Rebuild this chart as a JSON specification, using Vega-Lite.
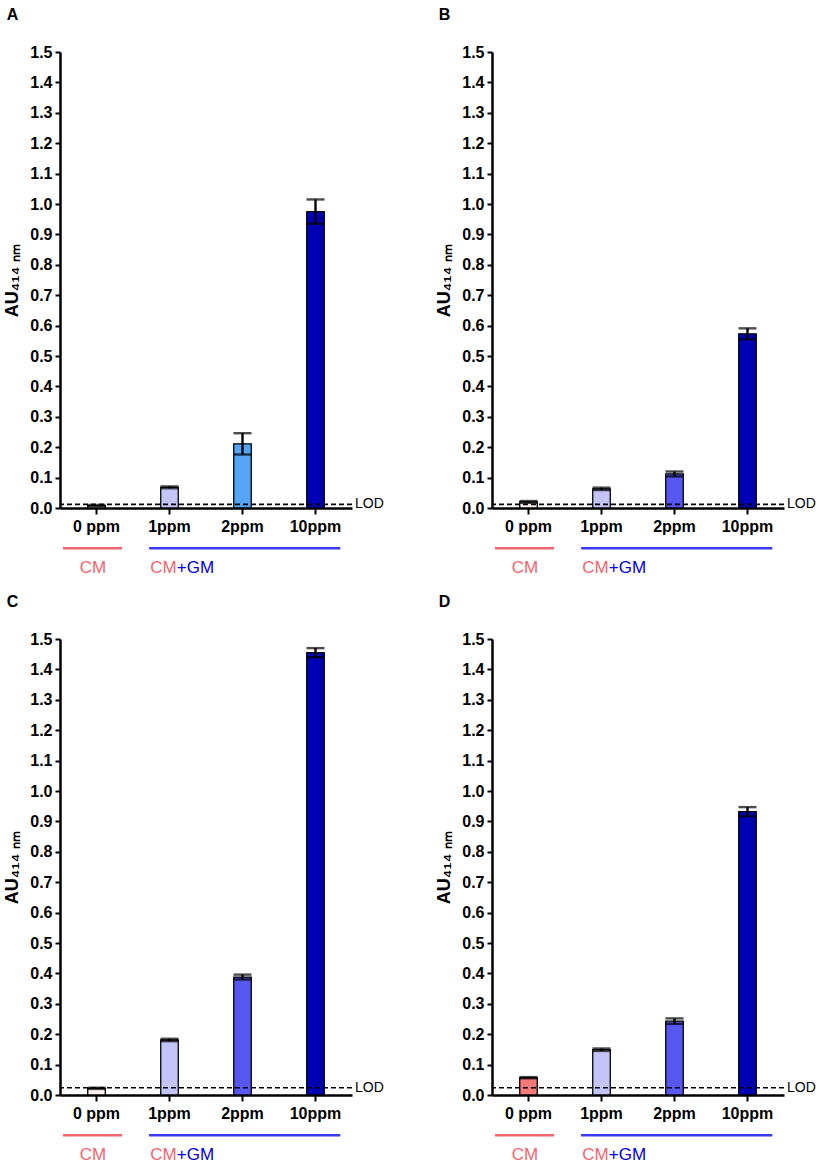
{
"$schema":"https://vega.github.io/schema/vega-lite/v6.json",
"padding":{"left":3,"top":7,"right":5,"bottom":3},
"background":"white",
"datasets":{
"bars":[
{"panel":"A","conc":"0 ppm","mean":0.008,"err":0.002},
{"panel":"A","conc":"1ppm","mean":0.068,"err":0.003},
{"panel":"A","conc":"2ppm","mean":0.211,"err":0.035},
{"panel":"A","conc":"10ppm","mean":0.975,"err":0.04},
{"panel":"B","conc":"0 ppm","mean":0.02,"err":0.003},
{"panel":"B","conc":"1ppm","mean":0.063,"err":0.004},
{"panel":"B","conc":"2ppm","mean":0.112,"err":0.008},
{"panel":"B","conc":"10ppm","mean":0.573,"err":0.018},
{"panel":"C","conc":"0 ppm","mean":0.022,"err":0.002},
{"panel":"C","conc":"1ppm","mean":0.181,"err":0.004},
{"panel":"C","conc":"2ppm","mean":0.388,"err":0.008},
{"panel":"C","conc":"10ppm","mean":1.455,"err":0.015},
{"panel":"D","conc":"0 ppm","mean":0.057,"err":0.002},
{"panel":"D","conc":"1ppm","mean":0.149,"err":0.004},
{"panel":"D","conc":"2ppm","mean":0.243,"err":0.009},
{"panel":"D","conc":"10ppm","mean":0.932,"err":0.015}
],
"lod":[
{"panel":"A","lod":0.012},
{"panel":"B","lod":0.012},
{"panel":"C","lod":0.024},
{"panel":"D","lod":0.024}
],
"groups":[
{"group":"CM","from":0.04,"to":0.85},
{"group":"CM+GM","from":1.22,"to":3.84}
]
},
"config":{
"font":"Liberation Sans",
"view":{"stroke":null},
"axis":{"grid":false,"domainColor":"#000000","domainWidth":2.5,"tickColor":"#000000","tickWidth":2,"tickSize":5,"labelColor":"#000000","labelFont":"Liberation Sans","labelFontSize":16,"labelFontWeight":"bold","titleFont":"Liberation Sans","titleFontSize":18,"titleFontWeight":"bold","titleColor":"#000000"},
"axisX":{"tickSize":6,"labelPadding":4,"labelAngle":0},
"axisY":{"labelPadding":3,"titlePadding":8},
"title":{"anchor":"start","fontSize":16,"fontWeight":"bold","dx":3,"offset":21,"color":"#000000","font":"Liberation Sans"}
},
"spacing":18,
"resolve":{"scale":{"fill":"independent"}},
"vconcat":[
{"hconcat":[
{"title":{"text":"A"},"width":292,"height":456,"resolve":{"scale":{"x":"independent"}},
"layer":[
{"layer":[
{"data":{"name":"bars"},"transform":[{"filter":"datum.panel === 'A'"}],
"mark":{"type":"bar","stroke":"#000000","strokeWidth":1.3},
"encoding":{
"x":{"field":"conc","type":"nominal","sort":["0 ppm","1ppm","2ppm","10ppm"],"scale":{"paddingInner":0.76,"paddingOuter":0.38},"axis":{"title":null}},
"y":{"field":"mean","type":"quantitative","scale":{"domain":[0,1.5],"nice":false},"title":"AU₄₁₄ ₙₘ","axis":{"values":[0,0.1,0.2,0.3,0.4,0.5,0.6,0.7,0.8,0.9,1,1.1,1.2,1.3,1.4,1.5],"format":".1f"}},
"fill":{"field":"conc","type":"nominal","scale":{"domain":["0 ppm","1ppm","2ppm","10ppm"],"range":["#FFEFEF","#C4C4F8","#55A5F7","#0000B4"]},"legend":null}}},
{"data":{"name":"bars"},"transform":[{"filter":"datum.panel === 'A'"}],
"mark":{"type":"errorbar","ticks":true,"size":18,"thickness":2.4,"color":"#000000"},
"encoding":{
"x":{"field":"conc","type":"nominal","sort":["0 ppm","1ppm","2ppm","10ppm"]},
"y":{"field":"mean","type":"quantitative","title":"AU₄₁₄ ₙₘ","axis":{"values":[0,0.1,0.2,0.3,0.4,0.5,0.6,0.7,0.8,0.9,1,1.1,1.2,1.3,1.4,1.5],"format":".1f"}},
"yError":{"field":"err"}}},
{"data":{"name":"lod"},"transform":[{"filter":"datum.panel === 'A'"}],
"mark":{"type":"rule","strokeDash":[5,3],"strokeWidth":1.6,"color":"#000000"},
"encoding":{"y":{"field":"lod","type":"quantitative","title":"AU₄₁₄ ₙₘ","axis":{"values":[0,0.1,0.2,0.3,0.4,0.5,0.6,0.7,0.8,0.9,1,1.1,1.2,1.3,1.4,1.5],"format":".1f"}}}}
]},
{"data":{"name":"lod"},"transform":[{"filter":"datum.panel === 'A'"}],
"mark":{"type":"text","align":"left","baseline":"middle","dx":3,"fontSize":14,"color":"#000000"},
"encoding":{"x":{"datum":4,"type":"quantitative","scale":{"domain":[0,4]},"axis":null},"y":{"field":"lod","type":"quantitative","title":"AU₄₁₄ ₙₘ","axis":{"values":[0,0.1,0.2,0.3,0.4,0.5,0.6,0.7,0.8,0.9,1,1.1,1.2,1.3,1.4,1.5],"format":".1f"}},"text":{"value":"LOD"}}},
{"data":{"name":"groups"},
"mark":{"type":"rule","strokeWidth":2.5},
"encoding":{"x":{"field":"from","type":"quantitative","scale":{"domain":[0,4]},"axis":null},"x2":{"field":"to"},"y":{"datum":-0.132,"type":"quantitative","title":"AU₄₁₄ ₙₘ","axis":{"values":[0,0.1,0.2,0.3,0.4,0.5,0.6,0.7,0.8,0.9,1,1.1,1.2,1.3,1.4,1.5],"format":".1f"}},"color":{"field":"group","type":"nominal","scale":{"domain":["CM","CM+GM"],"range":["#F2646E","#3B3BF0"]},"legend":null}}},
{"data":{"values":[{}]},
"mark":{"type":"text","align":"center","baseline":"middle","fontSize":17,"color":"#F2646E"},
"encoding":{"x":{"datum":0.45,"type":"quantitative","scale":{"domain":[0,4]},"axis":null},"y":{"datum":-0.197,"type":"quantitative","title":"AU₄₁₄ ₙₘ","axis":{"values":[0,0.1,0.2,0.3,0.4,0.5,0.6,0.7,0.8,0.9,1,1.1,1.2,1.3,1.4,1.5],"format":".1f"}},"text":{"value":"CM"}}},
{"data":{"values":[{}]},
"mark":{"type":"text","align":"right","baseline":"middle","fontSize":17,"color":"#F2646E"},
"encoding":{"x":{"datum":1.6,"type":"quantitative","scale":{"domain":[0,4]},"axis":null},"y":{"datum":-0.197,"type":"quantitative","title":"AU₄₁₄ ₙₘ","axis":{"values":[0,0.1,0.2,0.3,0.4,0.5,0.6,0.7,0.8,0.9,1,1.1,1.2,1.3,1.4,1.5],"format":".1f"}},"text":{"value":"CM"}}},
{"data":{"values":[{}]},
"mark":{"type":"text","align":"left","baseline":"middle","fontSize":17,"color":"#0000DD"},
"encoding":{"x":{"datum":1.6,"type":"quantitative","scale":{"domain":[0,4]},"axis":null},"y":{"datum":-0.197,"type":"quantitative","title":"AU₄₁₄ ₙₘ","axis":{"values":[0,0.1,0.2,0.3,0.4,0.5,0.6,0.7,0.8,0.9,1,1.1,1.2,1.3,1.4,1.5],"format":".1f"}},"text":{"value":"+GM"}}}
]},
{"title":{"text":"B"},"width":292,"height":456,"resolve":{"scale":{"x":"independent"}},
"layer":[
{"layer":[
{"data":{"name":"bars"},"transform":[{"filter":"datum.panel === 'B'"}],
"mark":{"type":"bar","stroke":"#000000","strokeWidth":1.3},
"encoding":{
"x":{"field":"conc","type":"nominal","sort":["0 ppm","1ppm","2ppm","10ppm"],"scale":{"paddingInner":0.76,"paddingOuter":0.38},"axis":{"title":null}},
"y":{"field":"mean","type":"quantitative","scale":{"domain":[0,1.5],"nice":false},"title":"AU₄₁₄ ₙₘ","axis":{"values":[0,0.1,0.2,0.3,0.4,0.5,0.6,0.7,0.8,0.9,1,1.1,1.2,1.3,1.4,1.5],"format":".1f"}},
"fill":{"field":"conc","type":"nominal","scale":{"domain":["0 ppm","1ppm","2ppm","10ppm"],"range":["#FFEFEF","#C4C4F8","#5757F2","#0000B4"]},"legend":null}}},
{"data":{"name":"bars"},"transform":[{"filter":"datum.panel === 'B'"}],
"mark":{"type":"errorbar","ticks":true,"size":18,"thickness":2.4,"color":"#000000"},
"encoding":{
"x":{"field":"conc","type":"nominal","sort":["0 ppm","1ppm","2ppm","10ppm"]},
"y":{"field":"mean","type":"quantitative","title":"AU₄₁₄ ₙₘ","axis":{"values":[0,0.1,0.2,0.3,0.4,0.5,0.6,0.7,0.8,0.9,1,1.1,1.2,1.3,1.4,1.5],"format":".1f"}},
"yError":{"field":"err"}}},
{"data":{"name":"lod"},"transform":[{"filter":"datum.panel === 'B'"}],
"mark":{"type":"rule","strokeDash":[5,3],"strokeWidth":1.6,"color":"#000000"},
"encoding":{"y":{"field":"lod","type":"quantitative","title":"AU₄₁₄ ₙₘ","axis":{"values":[0,0.1,0.2,0.3,0.4,0.5,0.6,0.7,0.8,0.9,1,1.1,1.2,1.3,1.4,1.5],"format":".1f"}}}}
]},
{"data":{"name":"lod"},"transform":[{"filter":"datum.panel === 'B'"}],
"mark":{"type":"text","align":"left","baseline":"middle","dx":3,"fontSize":14,"color":"#000000"},
"encoding":{"x":{"datum":4,"type":"quantitative","scale":{"domain":[0,4]},"axis":null},"y":{"field":"lod","type":"quantitative","title":"AU₄₁₄ ₙₘ","axis":{"values":[0,0.1,0.2,0.3,0.4,0.5,0.6,0.7,0.8,0.9,1,1.1,1.2,1.3,1.4,1.5],"format":".1f"}},"text":{"value":"LOD"}}},
{"data":{"name":"groups"},
"mark":{"type":"rule","strokeWidth":2.5},
"encoding":{"x":{"field":"from","type":"quantitative","scale":{"domain":[0,4]},"axis":null},"x2":{"field":"to"},"y":{"datum":-0.132,"type":"quantitative","title":"AU₄₁₄ ₙₘ","axis":{"values":[0,0.1,0.2,0.3,0.4,0.5,0.6,0.7,0.8,0.9,1,1.1,1.2,1.3,1.4,1.5],"format":".1f"}},"color":{"field":"group","type":"nominal","scale":{"domain":["CM","CM+GM"],"range":["#F2646E","#3B3BF0"]},"legend":null}}},
{"data":{"values":[{}]},
"mark":{"type":"text","align":"center","baseline":"middle","fontSize":17,"color":"#F2646E"},
"encoding":{"x":{"datum":0.45,"type":"quantitative","scale":{"domain":[0,4]},"axis":null},"y":{"datum":-0.197,"type":"quantitative","title":"AU₄₁₄ ₙₘ","axis":{"values":[0,0.1,0.2,0.3,0.4,0.5,0.6,0.7,0.8,0.9,1,1.1,1.2,1.3,1.4,1.5],"format":".1f"}},"text":{"value":"CM"}}},
{"data":{"values":[{}]},
"mark":{"type":"text","align":"right","baseline":"middle","fontSize":17,"color":"#F2646E"},
"encoding":{"x":{"datum":1.6,"type":"quantitative","scale":{"domain":[0,4]},"axis":null},"y":{"datum":-0.197,"type":"quantitative","title":"AU₄₁₄ ₙₘ","axis":{"values":[0,0.1,0.2,0.3,0.4,0.5,0.6,0.7,0.8,0.9,1,1.1,1.2,1.3,1.4,1.5],"format":".1f"}},"text":{"value":"CM"}}},
{"data":{"values":[{}]},
"mark":{"type":"text","align":"left","baseline":"middle","fontSize":17,"color":"#0000DD"},
"encoding":{"x":{"datum":1.6,"type":"quantitative","scale":{"domain":[0,4]},"axis":null},"y":{"datum":-0.197,"type":"quantitative","title":"AU₄₁₄ ₙₘ","axis":{"values":[0,0.1,0.2,0.3,0.4,0.5,0.6,0.7,0.8,0.9,1,1.1,1.2,1.3,1.4,1.5],"format":".1f"}},"text":{"value":"+GM"}}}
]}
],"spacing":51,"resolve":{"scale":{"fill":"independent"}}},
{"hconcat":[
{"title":{"text":"C"},"width":292,"height":456,"resolve":{"scale":{"x":"independent"}},
"layer":[
{"layer":[
{"data":{"name":"bars"},"transform":[{"filter":"datum.panel === 'C'"}],
"mark":{"type":"bar","stroke":"#000000","strokeWidth":1.3},
"encoding":{
"x":{"field":"conc","type":"nominal","sort":["0 ppm","1ppm","2ppm","10ppm"],"scale":{"paddingInner":0.76,"paddingOuter":0.38},"axis":{"title":null}},
"y":{"field":"mean","type":"quantitative","scale":{"domain":[0,1.5],"nice":false},"title":"AU₄₁₄ ₙₘ","axis":{"values":[0,0.1,0.2,0.3,0.4,0.5,0.6,0.7,0.8,0.9,1,1.1,1.2,1.3,1.4,1.5],"format":".1f"}},
"fill":{"field":"conc","type":"nominal","scale":{"domain":["0 ppm","1ppm","2ppm","10ppm"],"range":["#FFEFEF","#C4C4F8","#5757F2","#0000B4"]},"legend":null}}},
{"data":{"name":"bars"},"transform":[{"filter":"datum.panel === 'C'"}],
"mark":{"type":"errorbar","ticks":true,"size":18,"thickness":2.4,"color":"#000000"},
"encoding":{
"x":{"field":"conc","type":"nominal","sort":["0 ppm","1ppm","2ppm","10ppm"]},
"y":{"field":"mean","type":"quantitative","title":"AU₄₁₄ ₙₘ","axis":{"values":[0,0.1,0.2,0.3,0.4,0.5,0.6,0.7,0.8,0.9,1,1.1,1.2,1.3,1.4,1.5],"format":".1f"}},
"yError":{"field":"err"}}},
{"data":{"name":"lod"},"transform":[{"filter":"datum.panel === 'C'"}],
"mark":{"type":"rule","strokeDash":[5,3],"strokeWidth":1.6,"color":"#000000"},
"encoding":{"y":{"field":"lod","type":"quantitative","title":"AU₄₁₄ ₙₘ","axis":{"values":[0,0.1,0.2,0.3,0.4,0.5,0.6,0.7,0.8,0.9,1,1.1,1.2,1.3,1.4,1.5],"format":".1f"}}}}
]},
{"data":{"name":"lod"},"transform":[{"filter":"datum.panel === 'C'"}],
"mark":{"type":"text","align":"left","baseline":"middle","dx":3,"fontSize":14,"color":"#000000"},
"encoding":{"x":{"datum":4,"type":"quantitative","scale":{"domain":[0,4]},"axis":null},"y":{"field":"lod","type":"quantitative","title":"AU₄₁₄ ₙₘ","axis":{"values":[0,0.1,0.2,0.3,0.4,0.5,0.6,0.7,0.8,0.9,1,1.1,1.2,1.3,1.4,1.5],"format":".1f"}},"text":{"value":"LOD"}}},
{"data":{"name":"groups"},
"mark":{"type":"rule","strokeWidth":2.5},
"encoding":{"x":{"field":"from","type":"quantitative","scale":{"domain":[0,4]},"axis":null},"x2":{"field":"to"},"y":{"datum":-0.132,"type":"quantitative","title":"AU₄₁₄ ₙₘ","axis":{"values":[0,0.1,0.2,0.3,0.4,0.5,0.6,0.7,0.8,0.9,1,1.1,1.2,1.3,1.4,1.5],"format":".1f"}},"color":{"field":"group","type":"nominal","scale":{"domain":["CM","CM+GM"],"range":["#F2646E","#3B3BF0"]},"legend":null}}},
{"data":{"values":[{}]},
"mark":{"type":"text","align":"center","baseline":"middle","fontSize":17,"color":"#F2646E"},
"encoding":{"x":{"datum":0.45,"type":"quantitative","scale":{"domain":[0,4]},"axis":null},"y":{"datum":-0.197,"type":"quantitative","title":"AU₄₁₄ ₙₘ","axis":{"values":[0,0.1,0.2,0.3,0.4,0.5,0.6,0.7,0.8,0.9,1,1.1,1.2,1.3,1.4,1.5],"format":".1f"}},"text":{"value":"CM"}}},
{"data":{"values":[{}]},
"mark":{"type":"text","align":"right","baseline":"middle","fontSize":17,"color":"#F2646E"},
"encoding":{"x":{"datum":1.6,"type":"quantitative","scale":{"domain":[0,4]},"axis":null},"y":{"datum":-0.197,"type":"quantitative","title":"AU₄₁₄ ₙₘ","axis":{"values":[0,0.1,0.2,0.3,0.4,0.5,0.6,0.7,0.8,0.9,1,1.1,1.2,1.3,1.4,1.5],"format":".1f"}},"text":{"value":"CM"}}},
{"data":{"values":[{}]},
"mark":{"type":"text","align":"left","baseline":"middle","fontSize":17,"color":"#0000DD"},
"encoding":{"x":{"datum":1.6,"type":"quantitative","scale":{"domain":[0,4]},"axis":null},"y":{"datum":-0.197,"type":"quantitative","title":"AU₄₁₄ ₙₘ","axis":{"values":[0,0.1,0.2,0.3,0.4,0.5,0.6,0.7,0.8,0.9,1,1.1,1.2,1.3,1.4,1.5],"format":".1f"}},"text":{"value":"+GM"}}}
]},
{"title":{"text":"D"},"width":292,"height":456,"resolve":{"scale":{"x":"independent"}},
"layer":[
{"layer":[
{"data":{"name":"bars"},"transform":[{"filter":"datum.panel === 'D'"}],
"mark":{"type":"bar","stroke":"#000000","strokeWidth":1.3},
"encoding":{
"x":{"field":"conc","type":"nominal","sort":["0 ppm","1ppm","2ppm","10ppm"],"scale":{"paddingInner":0.76,"paddingOuter":0.38},"axis":{"title":null}},
"y":{"field":"mean","type":"quantitative","scale":{"domain":[0,1.5],"nice":false},"title":"AU₄₁₄ ₙₘ","axis":{"values":[0,0.1,0.2,0.3,0.4,0.5,0.6,0.7,0.8,0.9,1,1.1,1.2,1.3,1.4,1.5],"format":".1f"}},
"fill":{"field":"conc","type":"nominal","scale":{"domain":["0 ppm","1ppm","2ppm","10ppm"],"range":["#F47A7A","#C4C4F8","#5757F2","#0000B4"]},"legend":null}}},
{"data":{"name":"bars"},"transform":[{"filter":"datum.panel === 'D'"}],
"mark":{"type":"errorbar","ticks":true,"size":18,"thickness":2.4,"color":"#000000"},
"encoding":{
"x":{"field":"conc","type":"nominal","sort":["0 ppm","1ppm","2ppm","10ppm"]},
"y":{"field":"mean","type":"quantitative","title":"AU₄₁₄ ₙₘ","axis":{"values":[0,0.1,0.2,0.3,0.4,0.5,0.6,0.7,0.8,0.9,1,1.1,1.2,1.3,1.4,1.5],"format":".1f"}},
"yError":{"field":"err"}}},
{"data":{"name":"lod"},"transform":[{"filter":"datum.panel === 'D'"}],
"mark":{"type":"rule","strokeDash":[5,3],"strokeWidth":1.6,"color":"#000000"},
"encoding":{"y":{"field":"lod","type":"quantitative","title":"AU₄₁₄ ₙₘ","axis":{"values":[0,0.1,0.2,0.3,0.4,0.5,0.6,0.7,0.8,0.9,1,1.1,1.2,1.3,1.4,1.5],"format":".1f"}}}}
]},
{"data":{"name":"lod"},"transform":[{"filter":"datum.panel === 'D'"}],
"mark":{"type":"text","align":"left","baseline":"middle","dx":3,"fontSize":14,"color":"#000000"},
"encoding":{"x":{"datum":4,"type":"quantitative","scale":{"domain":[0,4]},"axis":null},"y":{"field":"lod","type":"quantitative","title":"AU₄₁₄ ₙₘ","axis":{"values":[0,0.1,0.2,0.3,0.4,0.5,0.6,0.7,0.8,0.9,1,1.1,1.2,1.3,1.4,1.5],"format":".1f"}},"text":{"value":"LOD"}}},
{"data":{"name":"groups"},
"mark":{"type":"rule","strokeWidth":2.5},
"encoding":{"x":{"field":"from","type":"quantitative","scale":{"domain":[0,4]},"axis":null},"x2":{"field":"to"},"y":{"datum":-0.132,"type":"quantitative","title":"AU₄₁₄ ₙₘ","axis":{"values":[0,0.1,0.2,0.3,0.4,0.5,0.6,0.7,0.8,0.9,1,1.1,1.2,1.3,1.4,1.5],"format":".1f"}},"color":{"field":"group","type":"nominal","scale":{"domain":["CM","CM+GM"],"range":["#F2646E","#3B3BF0"]},"legend":null}}},
{"data":{"values":[{}]},
"mark":{"type":"text","align":"center","baseline":"middle","fontSize":17,"color":"#F2646E"},
"encoding":{"x":{"datum":0.45,"type":"quantitative","scale":{"domain":[0,4]},"axis":null},"y":{"datum":-0.197,"type":"quantitative","title":"AU₄₁₄ ₙₘ","axis":{"values":[0,0.1,0.2,0.3,0.4,0.5,0.6,0.7,0.8,0.9,1,1.1,1.2,1.3,1.4,1.5],"format":".1f"}},"text":{"value":"CM"}}},
{"data":{"values":[{}]},
"mark":{"type":"text","align":"right","baseline":"middle","fontSize":17,"color":"#F2646E"},
"encoding":{"x":{"datum":1.6,"type":"quantitative","scale":{"domain":[0,4]},"axis":null},"y":{"datum":-0.197,"type":"quantitative","title":"AU₄₁₄ ₙₘ","axis":{"values":[0,0.1,0.2,0.3,0.4,0.5,0.6,0.7,0.8,0.9,1,1.1,1.2,1.3,1.4,1.5],"format":".1f"}},"text":{"value":"CM"}}},
{"data":{"values":[{}]},
"mark":{"type":"text","align":"left","baseline":"middle","fontSize":17,"color":"#0000DD"},
"encoding":{"x":{"datum":1.6,"type":"quantitative","scale":{"domain":[0,4]},"axis":null},"y":{"datum":-0.197,"type":"quantitative","title":"AU₄₁₄ ₙₘ","axis":{"values":[0,0.1,0.2,0.3,0.4,0.5,0.6,0.7,0.8,0.9,1,1.1,1.2,1.3,1.4,1.5],"format":".1f"}},"text":{"value":"+GM"}}}
]}
],"spacing":51,"resolve":{"scale":{"fill":"independent"}}}
]
}
